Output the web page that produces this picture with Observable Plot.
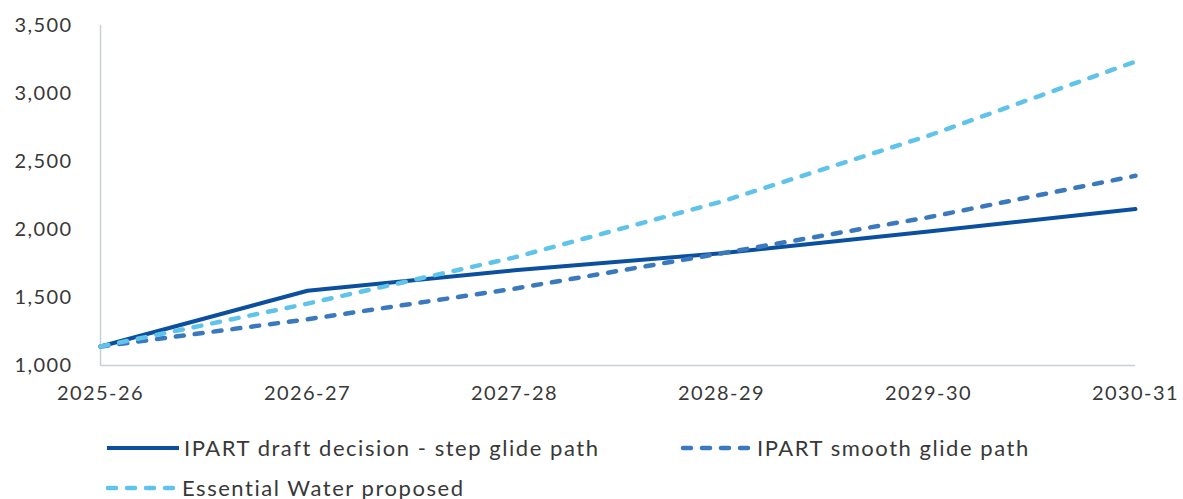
<!DOCTYPE html>
<html>
<head>
<meta charset="utf-8">
<script src="https://cdn.jsdelivr.net/npm/d3@7"></script>
<script src="https://cdn.jsdelivr.net/npm/@observablehq/plot@0.6"></script>
<style>
  html, body { margin: 0; padding: 0; background: #fff; }
  body { width: 1183px; font-family: Lato, "Open Sans", sans-serif; color: #383838; }
  #chart svg { display: block; }
  .legend { position: relative; height: 86px; margin-top: 12px; font-size: 22px; letter-spacing: 0.07em; }
  .item { position: absolute; display: flex; align-items: center; height: 41px; white-space: nowrap; }
  .item svg { display: block; margin-right: 5px; }
</style>
</head>
<body>
<div id="chart"></div>
<div class="legend" id="legend"></div>
<script>
// Financial years on the horizontal axis
const categories = ["2025-26", "2026-27", "2027-28", "2028-29", "2029-30", "2030-31"];

// Series values per year
const stepPath = [1140, 1550, 1700, 1825, 1985, 2150];
const smoothPath = [1140, 1340, 1565, 1825, 2090, 2395];
const essentialWater = [1140, 1455, 1795, 2205, 2690, 3235];

// Y-axis tick values
const yTicks = [1000, 1500, 2000, 2500, 3000, 3500];

const seriesNames = [
  "IPART draft decision - step glide path",
  "IPART smooth glide path",
  "Essential Water proposed"
];

const toRows = (values, name) => values.map((v, i) => ({year: categories[i], value: v, series: name}));
const stepRows = toRows(stepPath, seriesNames[0]);
const smoothRows = toRows(smoothPath, seriesNames[1]);
const ewRows = toRows(essentialWater, seriesNames[2]);

const colors = {step: "#0b4f9f", smooth: "#3a79be", ew: "#5fc3ea"};
const axisColor = "#c9cedb";

const chart = Plot.plot({
  width: 1183,
  height: 415,
  marginTop: 25,
  marginBottom: 50,
  marginLeft: 100,
  marginRight: 48,
  style: {fontFamily: "Lato, 'Open Sans', sans-serif", fontSize: "20px", color: "#383838", overflow: "visible", letterSpacing: "0.07em"},
  x: {type: "point", domain: categories, padding: 0, tickSize: 0, tickPadding: 20, label: null},
  y: {domain: [1000, 3500], ticks: yTicks, tickFormat: d3.format(","), tickSize: 0, tickPadding: 28, label: null},
  marks: [
    Plot.ruleX([categories[0]], {stroke: axisColor, strokeWidth: 1.5}),
    Plot.ruleY([1000], {stroke: axisColor, strokeWidth: 1.5}),
    Plot.line(stepRows, {x: "year", y: "value", stroke: colors.step, strokeWidth: 4}),
    Plot.line(smoothRows, {x: "year", y: "value", stroke: colors.smooth, strokeWidth: 4.5, strokeDasharray: "8,11", strokeLinecap: "round"}),
    Plot.line(ewRows, {x: "year", y: "value", stroke: colors.ew, strokeWidth: 4.5, strokeDasharray: "8,11", strokeLinecap: "round"})
  ]
});
document.getElementById("chart").appendChild(chart);

// Legend swatches and labels
const legendItems = [
  {name: seriesNames[0], color: colors.step, dash: null, left: 107, top: 0},
  {name: seriesNames[1], color: colors.smooth, dash: "8,11", left: 680, top: 0},
  {name: seriesNames[2], color: colors.ew, dash: "8,11", left: 105, top: 40}
];
const legend = d3.select("#legend");
for (const it of legendItems) {
  const item = legend.append("div").attr("class", "item")
    .style("left", it.left + "px").style("top", it.top + "px");
  const sw = item.append("svg").attr("width", 72).attr("height", 10);
  sw.append("line").attr("x1", it.dash ? 3 : 0).attr("x2", 72).attr("y1", 5).attr("y2", 5)
    .attr("stroke", it.color).attr("stroke-width", it.dash ? 4.5 : 4)
    .attr("stroke-dasharray", it.dash).attr("stroke-linecap", it.dash ? "round" : "butt");
  item.append("span").text(it.name);
}
</script>
</body>
</html>
